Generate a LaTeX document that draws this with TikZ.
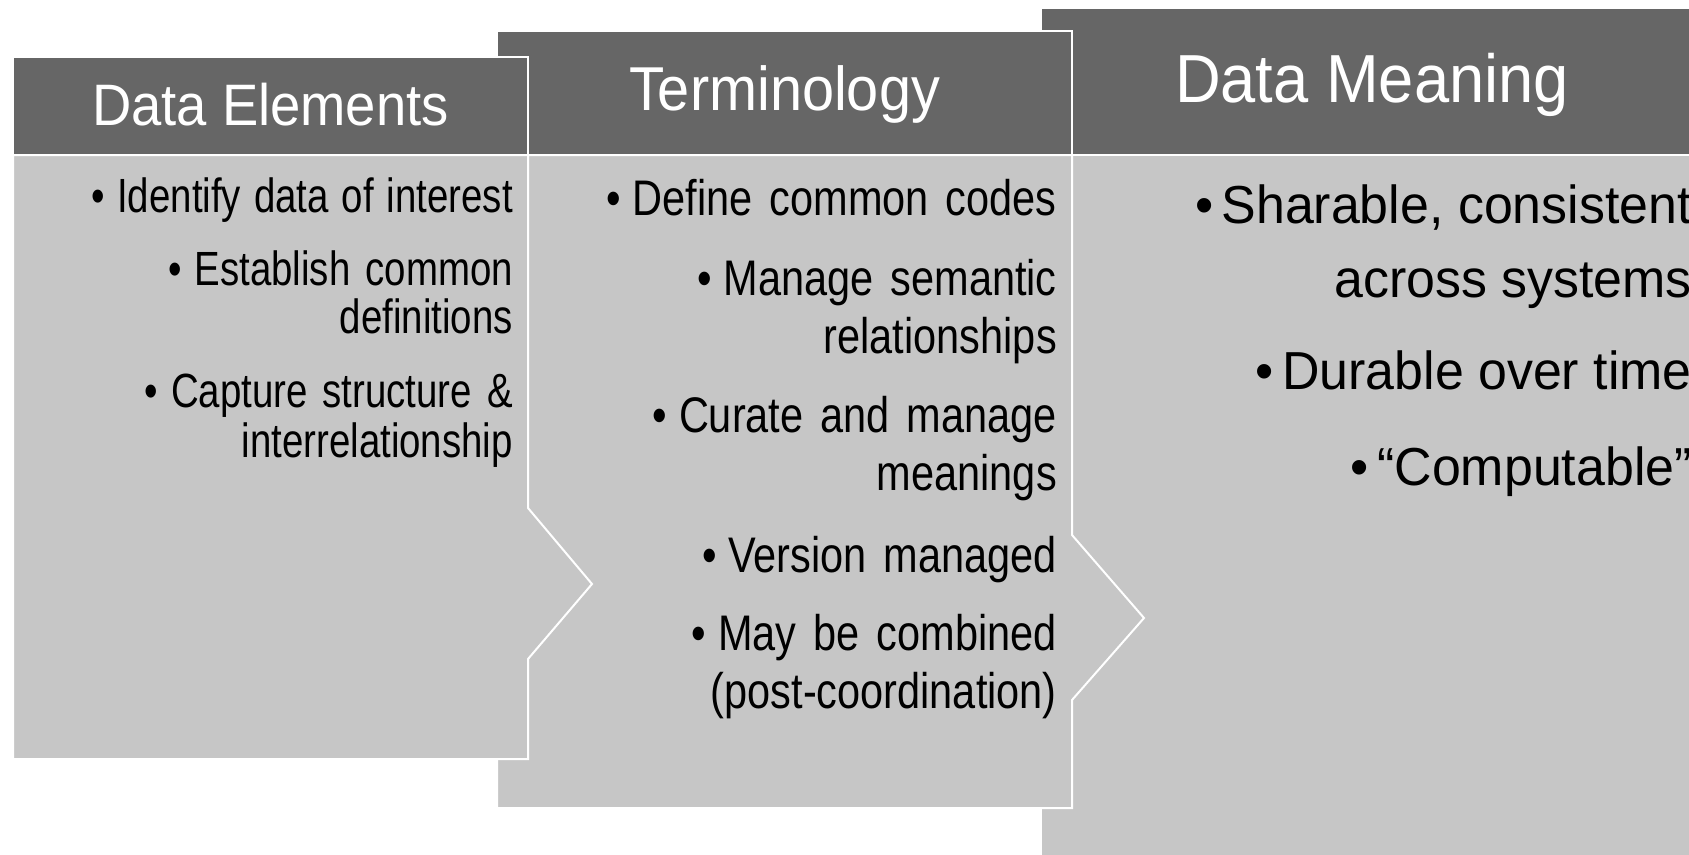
\documentclass[tikz,border=0pt]{standalone}
\usepackage{fontspec}
\setmainfont{Liberation Sans}
\newfontfamily\headfont[FakeStretch=0.93]{Liberation Sans}
\newfontfamily\bodyfontA[FakeStretch=0.8]{Liberation Sans}
\newfontfamily\bodyfontB[FakeStretch=0.83]{Liberation Sans}
\newfontfamily\bodyfontC[FakeStretch=0.97]{Liberation Sans}
\definecolor{headgray}{RGB}{102,102,102}
\definecolor{bodygray}{RGB}{198,198,198}
\newcommand{\wideA}{\spaceskip=15pt\relax}
\newcommand{\narrowA}{\spaceskip=13pt\relax}
\newcommand{\wideB}{\spaceskip=17pt\relax}

\tikzset{
  head/.style={fill=headgray, draw=white, line width=2pt},
  body/.style={fill=bodygray, draw=white, line width=2pt},
  title/.style={text=white, anchor=base, inner sep=0pt},
  itemA/.style={anchor=base east, inner sep=0pt, font=\bodyfontA\fontsize{48}{48}\selectfont\wideA},
  itemB/.style={anchor=base east, inner sep=0pt, font=\bodyfontB\fontsize{50}{50}\selectfont\wideB},
  itemC/.style={anchor=base east, inner sep=0pt, font=\bodyfontC\fontsize{53.5}{53.5}\selectfont}
}

\begin{document}
\begin{tikzpicture}[x=1pt, y=-1pt]
\useasboundingbox (0,0) rectangle (1689,854);
\clip (0,0) rectangle (1689,854);

% back panel: data meaning
\draw[body] (1041,155) -- (1703,155) -- (1703,870) -- (1041,870) -- cycle;
\draw[head] (1041,7.5) rectangle (1703,155);
\node[title, font=\headfont\fontsize{68}{68}\selectfont] (dmHead) at (1372,102.5) {Data Meaning};

% middle panel: terminology
\draw[body] (497,155) -- (1072,155) -- (1072,535) -- (1144,618) -- (1072,700) -- (1072,808) -- (497,808) -- cycle;
\draw[head] (497,31) rectangle (1072,155);
\node[title, font=\headfont\fontsize{62}{62}\selectfont] (teHead) at (784.5,110.5) {Terminology};

% front panel: data elements
\draw[body] (13,155) -- (528,155) -- (528,508) -- (592,584) -- (528,659) -- (528,759) -- (13,759) -- cycle;
\draw[head] (13,57) rectangle (528,155);
\node[title, font=\headfont\fontsize{58.5}{58.5}\selectfont] (deHead) at (270.5,125) {Data Elements};

% bullets, right aligned
\node[itemA, font=\bodyfontA\fontsize{48}{48}\selectfont\narrowA] (de1) at (513,212) {•\hspace{12.8pt}Identify data of interest};
\node[itemA] (de2) at (513,285) {•\hspace{12.8pt}Establish common};
\node[itemA] (de3) at (513,333) {definitions};
\node[itemA] (de4) at (513,407) {•\hspace{12.8pt}Capture structure \&};
\node[itemA] (de5) at (513,457) {interrelationship};

\node[itemB] (te1) at (1057,215) {•\hspace{11.8pt}Define common codes};
\node[itemB] (te2) at (1057,295) {•\hspace{11.8pt}Manage semantic};
\node[itemB] (te3) at (1057,353) {relationships};
\node[itemB] (te4) at (1057,432) {•\hspace{11.8pt}Curate and manage};
\node[itemB] (te5) at (1057,490) {meanings};
\node[itemB] (te6) at (1057,572) {•\hspace{11.8pt}Version managed};
\node[itemB] (te7) at (1057,650) {•\hspace{11.8pt}May be combined};
\node[itemB] (te8) at (1057,708) {(post-coordination)};

\node[itemC] (dm1) at (1692,223) {•\hspace{8.4pt}Sharable, consistent};
\node[itemC] (dm2) at (1692,297) {across systems};
\node[itemC] (dm3) at (1692,389) {•\hspace{8.4pt}Durable over time};
\node[itemC] (dm4) at (1692,485) {•\hspace{8.4pt}“Computable”};
\end{tikzpicture}
\end{document}
